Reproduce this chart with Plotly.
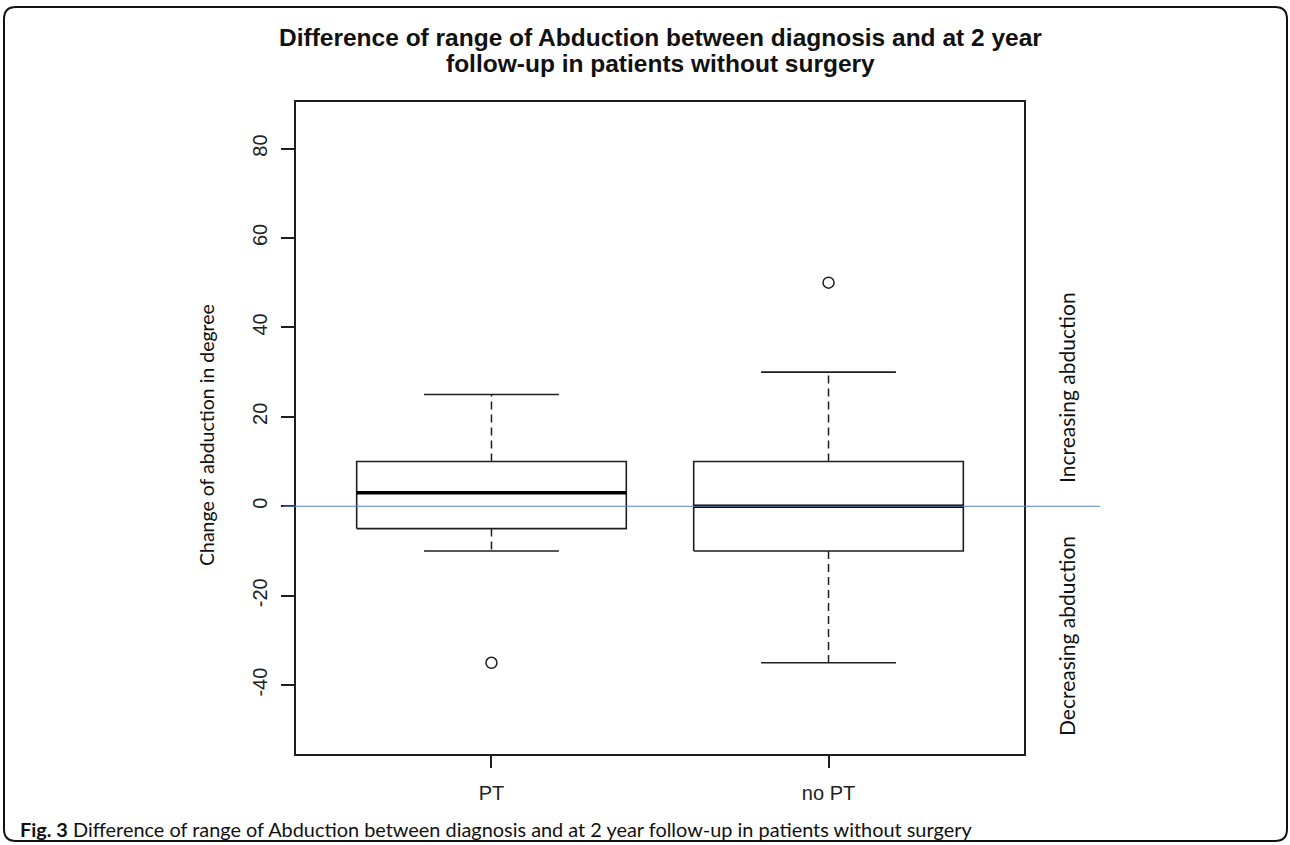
import plotly.graph_objects as go

# ---------------- data ----------------
categories = ["PT", "no PT"]
q1 = [-5, -10]
median = [3, 0]
q3 = [10, 10]
whisker_low = [-10, -35]
whisker_high = [25, 30]
outliers = [[-35], [50]]
y_ticks = [-40, -20, 0, 20, 40, 60, 80]

title_lines = ["Difference of range of Abduction between diagnosis and at 2 year",
               "follow-up in patients without surgery"]
y_title = "Change of abduction in degree"
side_up = "Increasing abduction"
side_down = "Decreasing abduction"
caption_bold = "Fig. 3"
caption_rest = " Difference of range of Abduction between diagnosis and at 2 year follow-up in patients without surgery"

# ---------------- layout geometry ----------------
FW, FH = 1290, 845
L, R, T, B = 296, 1024, 102, 754   # plot area in pixels
PW, PH = R - L, B - T


def px(x):
    return (x - L) / PW


def py(y):
    return (B - y) / PH


LINE = "#1e1e1e"
BOXW = 0.8
CAPW = 0.4

fig = go.Figure()
positions = list(range(1, len(categories) + 1))

for i, pos in enumerate(positions):
    # whiskers (dashed)
    fig.add_trace(go.Scatter(
        x=[pos, pos, None, pos, pos],
        y=[q3[i], whisker_high[i], None, q1[i], whisker_low[i]],
        mode="lines", line=dict(color=LINE, width=1.5, dash="8px,5px"),
        hoverinfo="skip", showlegend=False))
    # caps
    fig.add_trace(go.Scatter(
        x=[pos - CAPW / 2, pos + CAPW / 2, None, pos - CAPW / 2, pos + CAPW / 2],
        y=[whisker_high[i], whisker_high[i], None, whisker_low[i], whisker_low[i]],
        mode="lines", line=dict(color=LINE, width=1.6),
        hoverinfo="skip", showlegend=False))
    # box
    fig.add_trace(go.Scatter(
        x=[pos - BOXW / 2, pos + BOXW / 2, pos + BOXW / 2, pos - BOXW / 2, pos - BOXW / 2],
        y=[q1[i], q1[i], q3[i], q3[i], q1[i]],
        mode="lines", line=dict(color=LINE, width=1.6),
        fill="toself", fillcolor="white",
        hoverinfo="skip", showlegend=False))
    # median
    fig.add_trace(go.Scatter(
        x=[pos - BOXW / 2, pos + BOXW / 2],
        y=[median[i], median[i]],
        mode="lines", line=dict(color="#000000", width=3.5),
        hoverinfo="skip", showlegend=False))
    # outliers
    fig.add_trace(go.Scatter(
        x=[pos] * len(outliers[i]), y=outliers[i],
        mode="markers",
        marker=dict(symbol="circle-open", size=11, color=LINE, line=dict(width=1.5, color=LINE)),
        hoverinfo="skip", showlegend=False))

axis_font = dict(family="Liberation Sans, Arial, sans-serif", size=20, color="#222222")

fig.update_layout(
    width=FW, height=FH,
    margin=dict(l=L, r=FW - R, t=T, b=FH - B, pad=0),
    paper_bgcolor="white", plot_bgcolor="white",
    showlegend=False,
    xaxis=dict(
        range=[0.42, 2.58], tickvals=positions, ticktext=categories,
        ticks="outside", ticklen=12, tickwidth=1.5, tickcolor=LINE,
        showline=True, mirror=True, linecolor=LINE, linewidth=1.6,
        showgrid=False, zeroline=False, tickfont=axis_font,
        ticklabelstandoff=8, fixedrange=True),
    yaxis=dict(
        range=[-55.4, 90.4], tickvals=y_ticks,
        ticktext=[str(v) for v in y_ticks], tickangle=-90,
        ticks="outside", ticklen=13, tickwidth=1.5, tickcolor=LINE,
        showline=True, mirror=True, linecolor=LINE, linewidth=1.6,
        showgrid=False, zeroline=False, tickfont=axis_font,
        ticklabelstandoff=6, fixedrange=True),
)

# reference line at zero, drawn across and beyond the plot
fig.add_shape(type="line", xref="paper", yref="y",
              x0=px(283), x1=px(1100), y0=0, y1=0,
              line=dict(color="#5a82cc", width=1.2), layer="above")

# rounded outer frame
x0, x1, y0, y1, r = 4, 1287, 7, 841, 12
path = (f"M {px(x0 + r)},{py(y0)} L {px(x1 - r)},{py(y0)} "
        f"Q {px(x1)},{py(y0)} {px(x1)},{py(y0 + r)} "
        f"L {px(x1)},{py(y1 - r)} Q {px(x1)},{py(y1)} {px(x1 - r)},{py(y1)} "
        f"L {px(x0 + r)},{py(y1)} Q {px(x0)},{py(y1)} {px(x0)},{py(y1 - r)} "
        f"L {px(x0)},{py(y0 + r)} Q {px(x0)},{py(y0)} {px(x0 + r)},{py(y0)} Z")
fig.add_shape(type="path", xref="paper", yref="paper", path=path,
              line=dict(color="#111111", width=2), layer="above")

# title (two lines)
for line_text, yc in zip(title_lines, [37, 64]):
    fig.add_annotation(text=f"<b>{line_text}</b>", xref="paper", yref="paper",
                       x=px(660), y=py(yc), xanchor="center", yanchor="middle",
                       showarrow=False, align="center",
                       font=dict(family="Liberation Sans, Arial, sans-serif", size=24.5, color="#111111"))

# y-axis title
fig.add_annotation(text=y_title, xref="paper", yref="paper",
                   x=px(206), y=py(435), xanchor="center", yanchor="middle",
                   textangle=-90, showarrow=False,
                   font=dict(family="Lato, sans-serif", size=19.5, color="#111111"))

# side labels
fig.add_annotation(text=side_up, xref="paper", yref="paper",
                   x=px(1066), y=py(388), xanchor="center", yanchor="middle",
                   textangle=-90, showarrow=False,
                   font=dict(family="Lato, sans-serif", size=21, color="#111111"))
fig.add_annotation(text=side_down, xref="paper", yref="paper",
                   x=px(1066), y=py(636), xanchor="center", yanchor="middle",
                   textangle=-90, showarrow=False,
                   font=dict(family="Lato, sans-serif", size=21, color="#111111"))

# caption
fig.add_annotation(text=f"<b>{caption_bold}</b>{caption_rest}", xref="paper", yref="paper",
                   x=px(18), y=py(829), xanchor="left", yanchor="middle",
                   showarrow=False, align="left",
                   font=dict(family="Lato, sans-serif", size=19.9, color="#111111"))

fig.write_html("out.html")
